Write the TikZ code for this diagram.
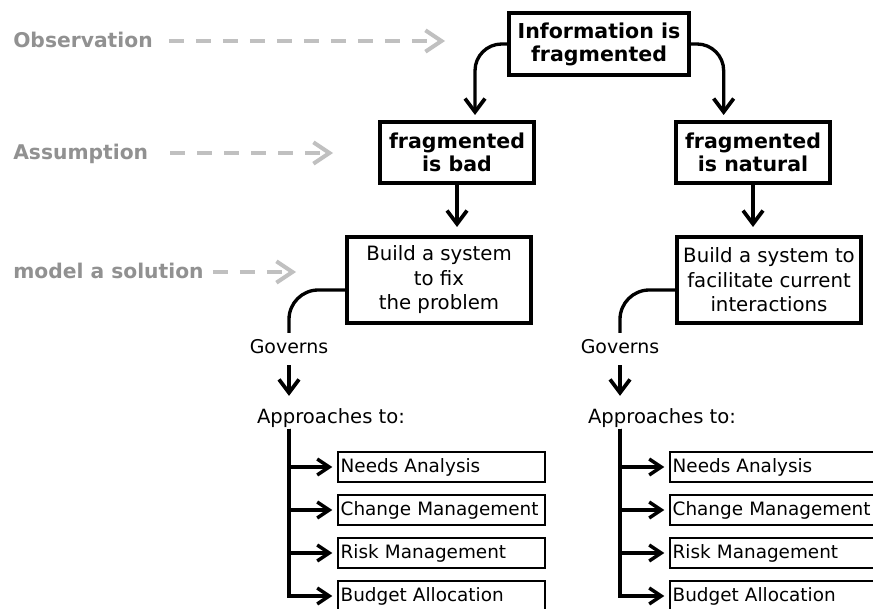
\documentclass[tikz,border=0pt]{standalone}
\usepackage{fontspec}
\setmainfont{DejaVu Sans}
\usetikzlibrary{arrows.meta, positioning}
\definecolor{notegray}{RGB}{145,145,145}
\definecolor{dashgray}{RGB}{192,192,192}
\tikzstyle{idea}=[draw, line width=3pt, align=center, inner sep=0pt, font=\bfseries\fontsize{15.4}{17.25}\selectfont]
\tikzstyle{plan}=[draw, line width=3pt, align=center, inner sep=0pt, font=\fontsize{14.8}{18.4}\selectfont]
\tikzstyle{item}=[draw, line width=1.5pt, anchor=west, text width=151pt, align=left, inner xsep=2pt, inner ysep=0pt, minimum height=22.5pt, font=\fontsize{13.8}{16}\selectfont]
\tikzstyle{word}=[inner sep=1pt, font=\fontsize{14.2}{16}\selectfont]
\tikzstyle{note}=[text=notegray, anchor=base west, inner sep=0pt, font=\bfseries\fontsize{15.2}{18}\selectfont]
\tikzstyle{flow}=[line width=2.5pt, -{Straight Barb[length=10pt,width=15pt,line width=2.8pt]}]
\tikzstyle{branch}=[line width=2.5pt, -{Straight Barb[length=9pt,width=12pt,line width=2.6pt]}]
\tikzstyle{link}=[line width=2.5pt, rounded corners=22pt]
\tikzstyle{hint}=[dashgray, line width=3pt, dash pattern=on 11.25pt off 9pt, -{Straight Barb[length=12pt,width=16pt,line width=3pt]}]

\begin{document}
\begin{tikzpicture}[x=0.75pt, y=-0.75pt]
  \useasboundingbox (0,0) rectangle (873,609);

  % left hand notes
  \node[note] (obs) at (13,48) {Observation};
  \node[note] (ass) at (13,160) {Assumption};
  \node[note] (mod) at (13,279) {model a solution};
  \coordinate (obs-end) at (445,41);
  \coordinate (ass-end) at (333,153);
  \coordinate (mod-end) at (296,272);
  \draw[hint, shorten <=12pt] (obs-end -| obs.east) -- (obs-end);
  \draw[hint, shorten <=16.5pt] (ass-end -| ass.east) -- (ass-end);
  \draw[hint, shorten <=6.75pt] (mod-end -| mod.east) -- (mod-end);

  % boxes
  \node[idea, minimum width=135pt, minimum height=46.5pt] (info) at (599,44) {Information is\\fragmented};
  \node[idea, minimum width=115.5pt, minimum height=45.75pt] (bad) at (457,152.5) {fragmented\\is bad};
  \node[idea, minimum width=115.5pt, minimum height=45.75pt] (natural) at (753,152.5) {fragmented\\is natural};
  \node[plan, minimum width=138pt, minimum height=64.5pt] (fix) at (439,280) {Build a system\\to fix\\the problem};
  \node[plan, minimum width=138pt, minimum height=64.5pt] (ease) at (769,280) {Build a system to\\facilitate current\\interactions};

  \draw[flow, rounded corners=20pt, shorten >=3.75pt] (info.west) -| ([xshift=13.5pt]bad.north);
  \draw[flow, rounded corners=20pt, shorten >=3.75pt] (info.east) -| ([xshift=-22pt]natural.north);
  \draw[flow, shorten >=6pt] (bad.south) -- (bad.south |- fix.north);
  \draw[flow, shorten >=6pt] (natural.south) -- (natural.south |- ease.north);

  % governs / approaches
  \node[word] (gov-L) at (289,347) {Governs};
  \node[word] (gov-R) at (620,347) {Governs};
  \node[word, anchor=base, font=\fontsize{14.7}{16}\selectfont] (app-L) at (331,423) {Approaches to:};
  \node[word, anchor=base, font=\fontsize{14.7}{16}\selectfont] (app-R) at (662,423) {Approaches to:};

  \draw[link, shorten >=4pt] ([yshift=-7.5pt]fix.west) -| (gov-L.north);
  \draw[link, shorten >=4pt] ([yshift=-7.5pt]ease.west) -| (gov-R.north);
  \draw[flow, shorten <=7pt, shorten >=8pt] (gov-L.south) -- (gov-L.south |- app-L.north);
  \draw[flow, shorten <=7pt, shorten >=8pt] (gov-R.south) -- (gov-R.south |- app-R.north);

  \foreach \name/\lbl/\y in {need/Needs Analysis/467, change/Change Management/510, risk/Risk Management/553, budget/Budget Allocation/596}
  {
    \node[item] (L-\name) at (337,\y) {\lbl};
    \node[item] (R-\name) at (669,\y) {\lbl};
    \draw[branch, shorten >=3.5pt] (gov-L |- app-L.south) |- (L-\name);
    \draw[branch, shorten >=3.5pt] (gov-R |- app-R.south) |- (R-\name);
  }

\end{tikzpicture}
\end{document}
